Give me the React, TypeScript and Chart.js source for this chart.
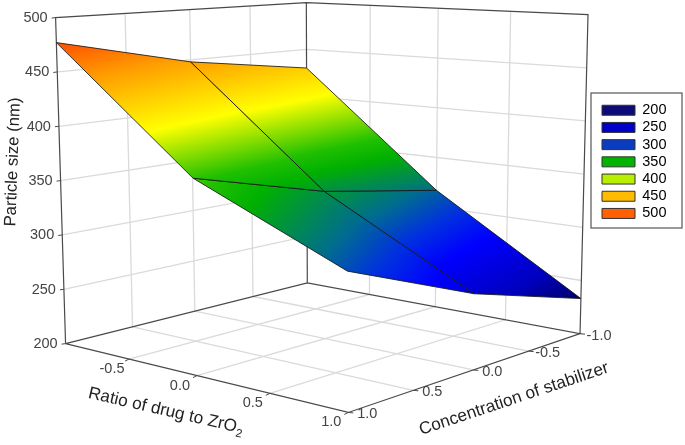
import React, { useEffect, useRef } from "react";
import { Chart, registerables } from "chart.js";

Chart.register(...registerables);

// ---- data ----
const drugLevels = [-1, 0, 1];
const stabilizerLevels = [-1, 0, 1];
// rows: ratio of drug; columns: concentration of stabilizer
const sizeAtDrugMinus1 = [430, 448, 477];
const sizeAtDrug0 = [317, 337, 369];
const sizeAtDrugPlus1 = [233, 266, 312];
const particleSize = [sizeAtDrugMinus1, sizeAtDrug0, sizeAtDrugPlus1];

const zTicks = [200, 250, 300, 350, 400, 450, 500];
const drugTicks = [-0.5, 0, 0.5, 1];
const stabilizerTicks = [1, 0.5, 0, -0.5, -1];
const gridSteps = [-0.5, 0, 0.5];

const legendLevels = ["200", "250", "300", "350", "400", "450", "500"];
const legendColors = ["#0d0b78", "#0000c8", "#0a3cc0", "#00b400", "#b8ee00", "#ffbb00", "#ff6000"];

const colorStopValues = [200, 233, 255, 283, 300, 318, 350, 365, 405, 450, 480, 500];
const colorStopColors = ["#00003c", "#00005c", "#0000c0", "#0000ff", "#0030e0", "#006c90", "#00b000", "#20c000", "#ffff00", "#ff9c00", "#ff4a00", "#ff3000"];

// ---- view (perspective box) ----
type P = [number, number];
const floorCorners: P[] = [[307, 283], [580, 334], [348, 413], [65, 344]];
const ceilCorners: P[] = [[306, 2], [588, 14], [346, 33.5], [55, 17]];

function squareToQuad(q: P[]) {
  const [[x0, y0], [x1, y1], [x2, y2], [x3, y3]] = q;
  const dx1 = x1 - x2, dx2 = x3 - x2, sx = x0 - x1 + x2 - x3;
  const dy1 = y1 - y2, dy2 = y3 - y2, sy = y0 - y1 + y2 - y3;
  const den = dx1 * dy2 - dx2 * dy1;
  const g = (sx * dy2 - dx2 * sy) / den;
  const h = (dx1 * sy - sx * dy1) / den;
  const a = x1 - x0 + g * x1, b = x3 - x0 + h * x3;
  const d = y1 - y0 + g * y1, e = y3 - y0 + h * y3;
  return (u: number, v: number): P => {
    const w = g * u + h * v + 1;
    return [(a * u + b * v + x0) / w, (d * u + e * v + y0) / w];
  };
}
const floorMap = squareToQuad(floorCorners);
const ceilMap = squareToQuad(ceilCorners);

function project(drug: number, stab: number, z: number) {
  const u = (drug + 1) / 2, v = (stab + 1) / 2, t = (z - 200) / 300;
  const f = floorMap(u, v), c = ceilMap(u, v);
  return { x: f[0] + (c[0] - f[0]) * t, y: f[1] + (c[1] - f[1]) * t };
}

const GRID = "#dadada";
const FRAME = "#4a4a4a";

function lineSet(points: { x: number; y: number }[], color: string, width: number) {
  return {
    data: points,
    showLine: true,
    borderColor: color,
    borderWidth: width,
    pointRadius: 0,
    fill: false,
    clip: false as const,
    tension: 0,
  };
}

function surfaceSet(i: number, j: number) {
  const corners: [number, number, number][] = [
    [drugLevels[i], stabilizerLevels[j], particleSize[i][j]],
    [drugLevels[i + 1], stabilizerLevels[j], particleSize[i + 1][j]],
    [drugLevels[i + 1], stabilizerLevels[j + 1], particleSize[i + 1][j + 1]],
    [drugLevels[i], stabilizerLevels[j + 1], particleSize[i][j + 1]],
  ];
  const pts = corners.map(([d, s, z]) => project(d, s, z));
  const zs = corners.map((c) => c[2]);
  return {
    data: [...pts, pts[0]],
    showLine: true,
    borderColor: "rgba(25,25,25,0.85)",
    borderWidth: 1,
    pointRadius: 0,
    clip: false as const,
    tension: 0,
    fill: "shape",
    backgroundColor: (ctx: any) => {
      // the x and y scales are laid out 1:1 with canvas pixels
      const px = pts.map((p) => [p.x, p.y]);
      // plane through the four corners (least squares) gives the direction of the shading
      const mx = px.reduce((a, p) => a + p[0], 0) / 4;
      const my = px.reduce((a, p) => a + p[1], 0) / 4;
      const mz = zs.reduce((a, z) => a + z, 0) / 4;
      let sxx = 0, sxy = 0, syy = 0, sxz = 0, syz = 0;
      px.forEach((p, k) => {
        const X = p[0] - mx, Y = p[1] - my, Z = zs[k] - mz;
        sxx += X * X; sxy += X * Y; syy += Y * Y; sxz += X * Z; syz += Y * Z;
      });
      const det = sxx * syy - sxy * sxy;
      const a = (sxz * syy - syz * sxy) / det;
      const b = (syz * sxx - sxz * sxy) / det;
      const n = a * a + b * b;
      const at = (z: number): P => [mx + (a * (z - mz)) / n, my + (b * (z - mz)) / n];
      const p0 = at(200), p1 = at(500);
      const g = ctx.chart.ctx.createLinearGradient(p0[0], p0[1], p1[0], p1[1]);
      colorStopValues.forEach((z, k) => g.addColorStop((z - 200) / 300, colorStopColors[k]));
      return g;
    },
  };
}

function buildDatasets() {
  const sets: any[] = [];
  // surface on top
  for (let i = 0; i < 2; i++) for (let j = 0; j < 2; j++) sets.push(surfaceSet(i, j));
  // box frame
  const corner = (d: number, s: number, z: number) => project(d, s, z);
  sets.push(lineSet([corner(-1, 1, 200), corner(-1, 1, 500), corner(-1, -1, 500), corner(1, -1, 500), corner(1, -1, 200)], FRAME, 1.2));
  sets.push(lineSet([corner(-1, -1, 500), corner(-1, -1, 200)], FRAME, 1.2));
  sets.push(lineSet([corner(-1, 1, 200), corner(-1, -1, 200), corner(1, -1, 200), corner(1, 1, 200), corner(-1, 1, 200)], FRAME, 1.2));
  // ticks on axes
  zTicks.forEach((z) => {
    const p = corner(-1, 1, z);
    sets.push(lineSet([p, { x: p.x - 4, y: p.y + 0.5 }], FRAME, 1));
  });
  drugTicks.forEach((d) => {
    const p = corner(d, 1, 200);
    sets.push(lineSet([p, { x: p.x - 4, y: p.y + 2 }], FRAME, 1));
  });
  stabilizerTicks.forEach((s) => {
    const p = corner(1, s, 200);
    sets.push(lineSet([p, { x: p.x + 5, y: p.y + 0.5 }], FRAME, 1));
  });
  // walls and floor grid
  zTicks.slice(1, -1).forEach((z) => {
    sets.push(lineSet([corner(-1, 1, z), corner(-1, -1, z), corner(1, -1, z)], GRID, 1.3));
  });
  gridSteps.forEach((s) => {
    sets.push(lineSet([corner(-1, s, 200), corner(-1, s, 500)], GRID, 1.3));
    sets.push(lineSet([corner(-1, s, 200), corner(1, s, 200)], GRID, 1.3));
  });
  gridSteps.forEach((d) => {
    sets.push(lineSet([corner(d, -1, 500), corner(d, -1, 200), corner(d, 1, 200)], GRID, 1.3));
  });
  return sets;
}

const axisText = {
  id: "axisText",
  afterLayout(chart: any) {
    const l = chart.legend;
    l.left = 599.3;
    l.right = 682;
    l.top = 100.3;
    l.bottom = 228;
  },
  afterDraw(chart: any) {
    const ctx = chart.ctx;
    const sx = chart.scales.x, sy = chart.scales.y;
    const toPx = (p: { x: number; y: number }) => [sx.getPixelForValue(p.x), sy.getPixelForValue(p.y)];
    ctx.save();
    // legend frame
    ctx.strokeStyle = "#555";
    ctx.lineWidth = 1.2;
    ctx.strokeRect(591, 93, 91, 135);

    ctx.fillStyle = "#444";
    ctx.font = '14.5px "Liberation Sans"';
    ctx.textBaseline = "middle";
    ctx.textAlign = "right";
    zTicks.forEach((z) => {
      const [x, y] = toPx(project(-1, 1, z));
      ctx.fillText(String(z), x - 8, y + 0.5);
    });
    ctx.textAlign = "center";
    drugTicks.forEach((d) => {
      const [x, y] = toPx(project(d, 1, 200));
      ctx.fillText(d.toFixed(1), x - 17, y + 10);
    });
    stabilizerTicks.forEach((s) => {
      const [x, y] = toPx(project(1, s, 200));
      ctx.fillText(s.toFixed(1), x + 19, y + 2);
    });

    // axis titles
    ctx.fillStyle = "#222";
    ctx.font = '16.7px "Liberation Sans"';
    ctx.save();
    ctx.translate(13, 162);
    ctx.rotate(-88 * Math.PI / 180);
    ctx.fillText("Particle size (nm)", 0, 0);
    ctx.restore();

    ctx.font = '17.2px "Liberation Sans"';
    ctx.save();
    ctx.translate(514, 399);
    ctx.rotate(-18.5 * Math.PI / 180);
    ctx.fillText("Concentration of stabilizer", 0, 0);
    ctx.restore();

    ctx.save();
    ctx.translate(166, 411);
    ctx.rotate(13 * Math.PI / 180);
    const main = "Ratio of drug to ZrO";
    const w = ctx.measureText(main).width;
    ctx.textAlign = "left";
    ctx.fillText(main, -(w + 7) / 2, 0);
    ctx.font = '11.5px "Liberation Sans"';
    ctx.fillText("2", w / 2 - 3, 6);
    ctx.restore();
    ctx.restore();
  },
};

export default function App() {
  const ref = useRef<HTMLCanvasElement>(null);
  useEffect(() => {
    if (!ref.current) return;
    const chart = new Chart(ref.current, {
      type: "scatter",
      data: { datasets: buildDatasets() },
      options: {
        responsive: false,
        animation: false,
        layout: { padding: 0 },
        scales: {
          x: { type: "linear", display: false, min: 0, max: 600 },
          y: { type: "linear", display: false, min: 0, max: 445, reverse: true },
        },
        plugins: {
          tooltip: { enabled: false },
          legend: {
            position: "right",
            align: "start",
            onClick: () => {},
            labels: {
              boxWidth: 33,
              boxHeight: 10,
              padding: 2.7,
              color: "#444",
              font: { family: '"Liberation Sans"', size: 14.5 },
              generateLabels: () =>
                legendLevels.map((text, i) => ({
                  text,
                  fillStyle: legendColors[i],
                  strokeStyle: "#333",
                  lineWidth: 1,
                  hidden: false,
                  datasetIndex: i,
                })),
            },
          },
        },
      },
      plugins: [axisText],
    } as any);
    (chart.options as any).scales.x.max = chart.chartArea.right;
    chart.update();
    return () => chart.destroy();
  }, []);
  return (
    <div style={{ position: "absolute", left: 0, top: 0, width: 685, height: 445, background: "#fff" }}>
      <canvas ref={ref} width={685} height={445} style={{ display: "block" }} />
    </div>
  );
}
